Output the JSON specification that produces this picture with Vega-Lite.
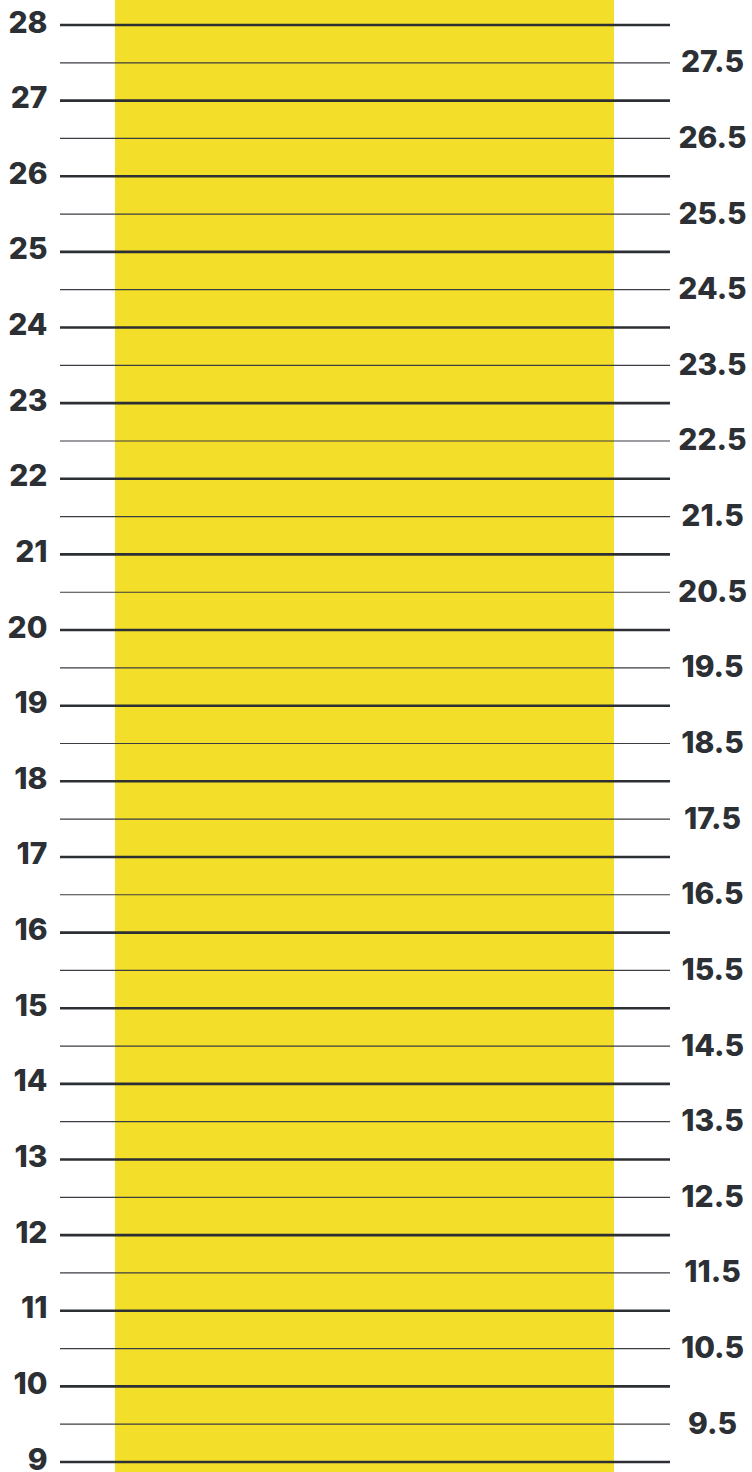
{
  "$schema": "https://vega.github.io/schema/vega-lite/v6.json",
  "width": 610,
  "height": 1472,
  "autosize": {"type": "none"},
  "padding": {"left": 60, "top": 0, "right": 82, "bottom": 0},
  "background": "white",
  "config": {"view": {"stroke": null}},
  "datasets": {
    "lines": [
      {"value": 28, "kind": "major"}, {"value": 27.5, "kind": "minor"},
      {"value": 27, "kind": "major"}, {"value": 26.5, "kind": "minor"},
      {"value": 26, "kind": "major"}, {"value": 25.5, "kind": "minor"},
      {"value": 25, "kind": "major"}, {"value": 24.5, "kind": "minor"},
      {"value": 24, "kind": "major"}, {"value": 23.5, "kind": "minor"},
      {"value": 23, "kind": "major"}, {"value": 22.5, "kind": "minor"},
      {"value": 22, "kind": "major"}, {"value": 21.5, "kind": "minor"},
      {"value": 21, "kind": "major"}, {"value": 20.5, "kind": "minor"},
      {"value": 20, "kind": "major"}, {"value": 19.5, "kind": "minor"},
      {"value": 19, "kind": "major"}, {"value": 18.5, "kind": "minor"},
      {"value": 18, "kind": "major"}, {"value": 17.5, "kind": "minor"},
      {"value": 17, "kind": "major"}, {"value": 16.5, "kind": "minor"},
      {"value": 16, "kind": "major"}, {"value": 15.5, "kind": "minor"},
      {"value": 15, "kind": "major"}, {"value": 14.5, "kind": "minor"},
      {"value": 14, "kind": "major"}, {"value": 13.5, "kind": "minor"},
      {"value": 13, "kind": "major"}, {"value": 12.5, "kind": "minor"},
      {"value": 12, "kind": "major"}, {"value": 11.5, "kind": "minor"},
      {"value": 11, "kind": "major"}, {"value": 10.5, "kind": "minor"},
      {"value": 10, "kind": "major"}, {"value": 9.5, "kind": "minor"},
      {"value": 9, "kind": "major"}
    ],
    "band": [{"start": 55, "end": 554}]
  },
  "layer": [
    {
      "data": {"name": "band"},
      "mark": {"type": "rect", "color": "#f3df29"},
      "encoding": {
        "x": {"field": "start", "type": "quantitative", "scale": {"domain": [0, 610], "nice": false, "zero": false}, "axis": null},
        "x2": {"field": "end"}
      }
    },
    {
      "data": {"name": "lines"},
      "transform": [{"filter": "datum.kind === 'major'"}],
      "mark": {"type": "rule", "color": "#2c2f34", "strokeWidth": 2.6},
      "encoding": {
        "y": {
          "field": "value", "type": "quantitative",
          "scale": {"domain": [8.8678, 28.3306], "nice": false, "zero": false},
          "axis": {
            "orient": "left", "title": null, "values": [9,10,11,12,13,14,15,16,17,18,19,20,21,22,23,24,25,26,27,28],
            "format": "d", "ticks": false, "domain": false, "grid": false,
            "labelFont": "Inter", "labelFontWeight": 800, "labelFontSize": 30, "labelColor": "#2c2f34",
            "labelPadding": 13, "labelOverlap": false, "labelBound": false, "labelBaseline": "middle", "labelFlush": false, "labelOffset": -2
          }
        }
      }
    },
    {
      "data": {"name": "lines"},
      "transform": [{"filter": "datum.kind === 'minor'"}],
      "mark": {"type": "rule", "color": "#3a3d42", "strokeWidth": 1.2},
      "encoding": {
        "y": {
          "field": "value", "type": "quantitative",
          "axis": {
            "orient": "right", "title": null, "values": [9.5,10.5,11.5,12.5,13.5,14.5,15.5,16.5,17.5,18.5,19.5,20.5,21.5,22.5,23.5,24.5,25.5,26.5,27.5],
            "format": ".1f", "ticks": false, "domain": false, "grid": false,
            "labelFont": "Inter", "labelFontWeight": 800, "labelFontSize": 30, "labelColor": "#2c2f34",
            "labelAlign": "center", "labelPadding": 42, "labelOverlap": false, "labelBound": false, "labelBaseline": "middle", "labelFlush": false
          }
        }
      }
    }
  ],
  "resolve": {"scale": {"y": "shared"}, "axis": {"y": "independent"}}
}
